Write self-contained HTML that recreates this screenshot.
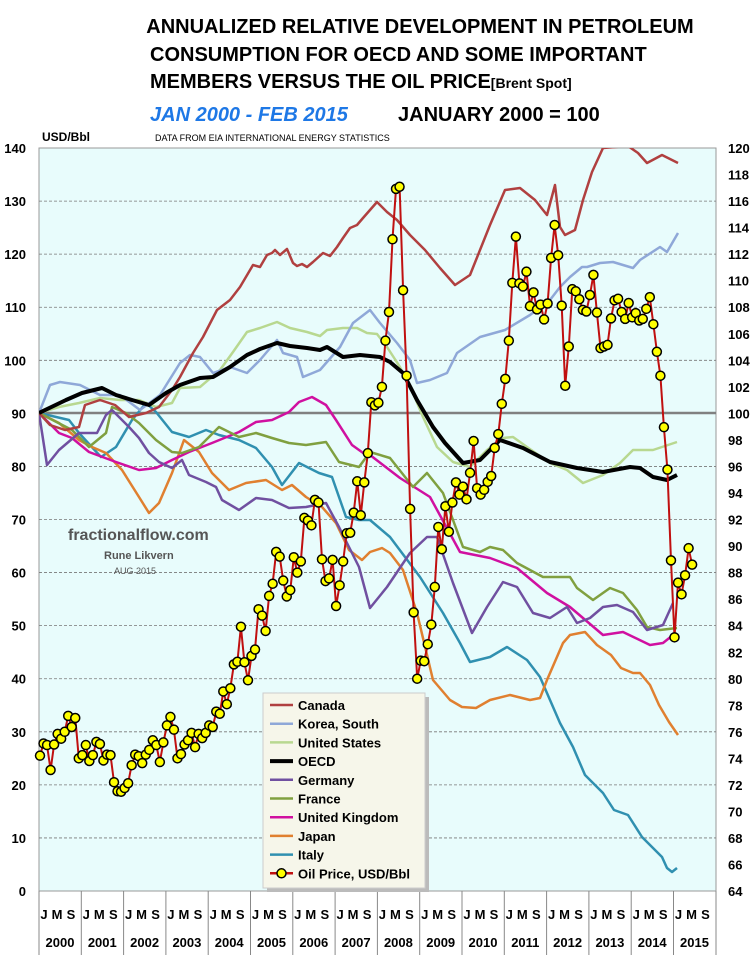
<!DOCTYPE html>
<html><head><meta charset="utf-8"><style>
body{margin:0;background:#fff;}
svg{display:block;font-family:"Liberation Sans",Arial,sans-serif;}
</style></head><body>
<svg id="s" width="756" height="961" xmlns="http://www.w3.org/2000/svg">
<defs><clipPath id="c"><rect x="39" y="148" width="677" height="743"/></clipPath></defs>
<rect width="756" height="961" fill="#fff"/>
<text x="420" y="33" font-size="20" font-weight="bold" text-anchor="middle">ANNUALIZED RELATIVE DEVELOPMENT IN PETROLEUM</text>
<text x="150" y="61" font-size="20" font-weight="bold">CONSUMPTION FOR OECD AND SOME IMPORTANT</text>
<text x="150" y="88" font-size="20" font-weight="bold">MEMBERS VERSUS THE OIL PRICE<tspan font-size="14">[Brent Spot]</tspan></text>
<text x="150" y="121" font-size="20" font-weight="bold" font-style="italic" fill="#1e78e6">JAN 2000 - FEB 2015</text>
<text x="398" y="121" font-size="20" font-weight="bold">JANUARY 2000 = 100</text>
<text x="42" y="141" font-size="12" font-weight="bold">USD/Bbl</text>
<text x="155" y="141" font-size="9">DATA FROM EIA INTERNATIONAL ENERGY STATISTICS</text>
<rect x="39" y="148" width="677" height="743" fill="#e8fcfc" stroke="#999" stroke-width="1"/>
<g id="grid" stroke="#777" stroke-dasharray="3,2" stroke-width="0.8"></g>
<line x1="39" x2="716" y1="413" y2="413" stroke="#808080" stroke-width="2.5"/>
<g id="labels" font-size="13" font-weight="bold"></g>
<g fill="none" stroke-width="2.5" stroke-linejoin="round" clip-path="url(#c)">
<polyline stroke="#3090b0" points="39,413 69,420 79,433 101,457 116,447 132,420 146,403 156,412 172,432 189,437 206,430 219,435 239,440 256,448 272,467 282,485 299,463 319,473 332,477 346,517 359,520 370,520 390,537 420,577 443,613 460,643 470,662 490,657 507,647 527,660 540,677 560,723 573,747 585,775 603,793 614,810 628,815 642,837 662,857 667,868 672,872 677,868"/>
<polyline stroke="#e08030" points="39,413 59,423 79,440 92,447 106,453 122,470 139,497 149,513 159,503 172,473 184,440 199,452 212,473 229,490 246,483 266,480 282,490 292,485 306,497 322,507 336,523 349,550 362,560 370,552 382,548 390,553 403,570 417,613 433,680 450,700 462,707 476,708 490,700 510,695 530,700 540,698 547,680 563,643 570,635 585,632 597,645 611,655 621,668 633,673 640,673 650,685 659,705 669,722 678,735"/>
<polyline stroke="#d010a0" points="39,413 59,433 72,438 89,452 116,462 139,470 156,468 172,460 189,452 212,443 239,432 256,422 272,420 289,412 299,402 312,397 326,405 336,420 352,445 366,455 370,455 400,478 430,497 460,552 490,558 517,568 547,593 570,607 603,635 623,632 650,645 663,643 673,635"/>
<polyline stroke="#80a040" points="39,413 72,430 89,447 106,433 112,407 126,413 139,423 156,440 172,452 182,453 199,447 219,427 239,437 256,433 272,438 289,443 306,445 326,442 339,462 359,467 370,452 390,458 413,487 427,473 443,493 463,547 480,552 490,547 503,550 517,563 543,577 570,577 577,588 593,600 610,588 623,593 637,610 647,627 660,630 677,628"/>
<polyline stroke="#7050a0" points="39,413 47,465 59,450 79,433 97,433 106,415 112,410 119,417 129,427 139,438 149,453 159,462 172,468 182,460 189,475 206,482 216,487 222,500 239,510 256,498 272,500 289,508 306,507 326,503 339,527 359,567 370,608 387,587 410,553 427,537 437,537 453,583 472,633 487,607 503,582 517,587 533,613 550,618 567,607 577,623 590,618 603,607 617,605 633,612 647,630 663,625 673,603"/>
<polyline stroke="#b8d890" points="39,413 59,407 79,403 100,398 120,400 139,400 156,407 172,403 180,388 200,387 220,370 233,352 247,332 260,328 277,322 290,328 307,332 320,336 327,330 343,328 357,328 367,333 377,334 387,347 400,367 413,393 423,417 437,447 453,462 470,467 487,450 503,438 513,437 527,447 550,463 567,470 583,483 603,475 620,463 633,450 653,450 677,442"/>
<polyline stroke="#8fa8d8" points="39,413 50,385 60,382 80,385 100,395 120,395 140,410 160,395 180,363 190,355 200,357 213,373 230,367 247,373 260,360 277,340 283,353 297,357 303,377 320,370 340,347 353,323 370,310 380,323 397,343 410,360 417,383 430,380 447,373 457,353 480,337 505,330 530,315 550,300 560,287 570,277 582,267 587,267 600,263 613,262 633,268 640,260 660,247 667,252 678,233"/>
<polyline stroke="#b04040" points="39,413 50,425 65,430 79,427 85,405 100,400 115,405 129,417 146,413 159,407 172,390 180,377 193,353 203,337 217,310 230,300 240,287 253,265 260,267 267,255 272,253 275,250 280,255 287,249 293,263 297,266 302,264 307,267 313,262 323,253 330,256 337,247 343,238 350,228 357,225 363,218 370,210 377,202 387,212 397,220 410,235 425,250 440,268 455,285 470,275 490,225 505,190 520,188 535,200 547,215 555,185 560,227 565,235 575,230 583,200 592,172 603,148 628,146 638,153 647,163 662,155 678,163"/>
<polyline stroke="#000" stroke-width="4" points="39,413 66,400 82,393 102,388 116,395 132,400 149,405 166,393 180,385 200,378 213,377 230,367 247,355 260,349 277,343 290,346 307,348 320,350 327,347 343,357 360,355 380,357 390,362 403,373 417,400 433,427 445,443 463,463 480,460 500,440 523,448 550,462 577,468 603,472 630,467 640,468 653,477 667,480 677,475"/>
<polyline id="oil" stroke="#c01010" stroke-width="2"/>
</g>
<g id="dots" fill="#ffff00" stroke="#000" stroke-width="1.5"></g>
<g id="xax" font-size="13" font-weight="bold" text-anchor="middle"></g>
<text x="68" y="540" font-size="16" font-weight="bold" fill="#555">fractionalflow.com</text>
<text x="104" y="559" font-size="11" font-weight="bold" fill="#555">Rune Likvern</text>
<text x="114" y="574" font-size="9" fill="#555">AUG 2015</text>
<rect x="267" y="697" width="162" height="195" fill="#bbb"/>
<rect x="263" y="693" width="162" height="195" fill="#f6f6ea" stroke="#ccc"/>
<g id="leg" font-size="13" font-weight="bold"></g>
</svg>
<script>
var g=document.getElementById('grid'),L=document.getElementById('labels'),ns='http://www.w3.org/2000/svg';
function el(p,t,a,txt){var e=document.createElementNS(ns,t);for(var k in a)e.setAttribute(k,a[k]);if(txt)e.textContent=txt;p.appendChild(e);return e;}
for(var v=0;v<=140;v+=10){var y=891-v*5.307;if(v>0&&v<140)el(g,'line',{x1:39,x2:716,y1:y,y2:y});el(L,'text',{x:26,y:y+5,'text-anchor':'end'},''+v);}
for(var v=64;v<=120;v+=2){var y=148+(120-v)*13.27;el(L,'text',{x:728,y:y+5},''+v);}
var X=document.getElementById('xax');
for(var i=0;i<16;i++){var x0=39+i*42.3;el(X,'line',{x1:x0,x2:x0,y1:891,y2:955,stroke:'#888'});
el(X,'text',{x:x0+5,y:919},'J');el(X,'text',{x:x0+18,y:919},'M');el(X,'text',{x:x0+32,y:919},'S');
el(X,'text',{x:x0+21,y:947},''+(2000+i));}
el(X,'line',{x1:716,x2:716,y1:891,y2:955,stroke:'#888'});
var d=[25.5,27.8,27.5,22.8,27.6,29.6,28.7,30.0,33.0,30.9,32.6,25.0,25.6,27.5,24.5,25.6,28.1,27.7,24.6,25.7,25.6,20.5,18.8,18.7,19.4,20.3,23.7,25.7,25.4,24.1,25.7,26.6,28.4,27.5,24.3,28.0,31.2,32.8,30.4,25.0,25.8,27.6,28.4,29.8,27.1,29.6,28.8,29.8,31.2,30.9,33.8,33.4,37.6,35.2,38.2,42.7,43.2,49.8,43.1,39.7,44.3,45.5,53.1,51.9,49.0,55.6,57.9,63.9,63.0,58.5,55.5,56.7,62.9,60.0,62.1,70.3,69.8,68.9,73.7,73.2,62.5,58.4,58.9,62.4,53.7,57.6,62.1,67.4,67.5,71.3,77.2,70.8,77.0,82.5,92.1,91.5,92.0,95.0,103.7,109.1,122.8,132.3,132.7,113.2,97.1,72.0,52.5,40.0,43.4,43.3,46.5,50.2,57.3,68.6,64.4,72.5,67.7,73.2,77.0,74.7,76.2,73.8,78.8,84.8,75.9,74.7,75.6,77.1,78.2,83.5,86.1,91.8,96.5,103.7,114.6,123.3,114.5,113.9,116.7,110.2,112.8,109.6,110.5,107.7,110.7,119.3,125.5,119.8,110.3,95.2,102.6,113.4,113.0,111.5,109.5,109.2,112.3,116.1,109.0,102.3,102.6,102.9,107.9,111.3,111.6,109.1,107.8,110.8,108.1,108.9,107.5,107.8,109.7,111.9,106.8,101.6,97.1,87.4,79.4,62.3,47.8,58.1,55.9,59.5,64.6,61.5];
var pts=[],D=document.getElementById('dots');
for(var m=0;m<d.length;m++){var x=40+m*3.525,y=891-d[m]*5.307;pts.push(x.toFixed(1)+','+y.toFixed(1));el(D,'circle',{cx:x,cy:y,r:4.5});}
document.getElementById('oil').setAttribute('points',pts.join(' '));
var G=document.getElementById('leg');
var items=[['Canada','#b04040'],['Korea, South','#8fa8d8'],['United States','#b8d890'],['OECD','#000'],['Germany','#7050a0'],['France','#80a040'],['United Kingdom','#d010a0'],['Japan','#e08030'],['Italy','#3090b0'],['Oil Price, USD/Bbl','#c01010']];
for(var i=0;i<items.length;i++){var y=705+i*18.7;el(G,'line',{x1:270,x2:293,y1:y,y2:y,stroke:items[i][1],'stroke-width':i==3?4:2.5});
if(i==9)el(G,'circle',{cx:281.5,cy:y,r:4.5,fill:'#ff0',stroke:'#000','stroke-width':1.5});
el(G,'text',{x:298,y:y+5},items[i][0]);}
</script>
</body></html>
